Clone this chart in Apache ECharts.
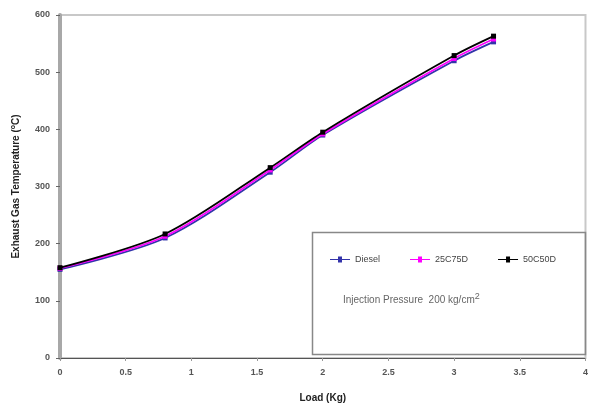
<!DOCTYPE html>
<html>
<head>
<meta charset="utf-8">
<script src="https://cdn.jsdelivr.net/npm/echarts@6/dist/echarts.min.js"></script>
<style>html,body{margin:0;padding:0;background:#fff}#c{width:591px;height:411px}</style>
</head>
<body>
<div id="c"></div>
<script>
var loads = [0, 0.8, 1.6, 2, 3, 3.3];
var diesel = [155, 210, 325, 390, 520, 553];
var c25 = [157, 213, 329, 392, 524, 558];
var c50 = [158, 217, 333, 395, 529, 563];
var seriesNames = ['Diesel', '25C75D', '50C50D'];
var seriesColors = ['#3333aa', '#ff00ff', '#000000'];
var xTicks = [0, 0.5, 1, 1.5, 2, 2.5, 3, 3.5, 4];
var yTicks = [0, 100, 200, 300, 400, 500, 600];

function pairs(v){ return loads.map(function(x,i){ return [x, v[i]]; }); }
var vals = [diesel, c25, c50];

var chart = echarts.init(document.getElementById('c'));
chart.setOption({
  animation: false,
  grid: {left: 60, right: 3, top: 15, bottom: 53, show: true, borderColor: '#c8c8c8', borderWidth: 2},
  xAxis: {
    type: 'value', min: 0, max: 4, interval: 0.5,
    name: 'Load (Kg)', nameLocation: 'middle', nameGap: 35,
    nameTextStyle: {fontFamily: 'Liberation Sans', fontSize: 10, fontWeight: 'bold', color: '#222'},
    axisLine: {lineStyle: {color: '#555', width: 1}},
    axisTick: {show: true, length: 3, inside: false, lineStyle: {color: '#999'}},
    axisLabel: {fontFamily: 'Liberation Sans', fontSize: 9, fontWeight: 'bold', color: '#555', margin: 10,
      formatter: function(v){ return String(v); }},
    splitLine: {show: false}
  },
  yAxis: {
    type: 'value', min: 0, max: 600, interval: 100,
    name: 'Exhaust Gas Temperature ({sup|o}C)', nameLocation: 'middle', nameGap: 38,
    nameTextStyle: {fontFamily: 'Liberation Sans', fontSize: 10, fontWeight: 'bold', color: '#222',
      rich: {sup: {fontSize: 7, fontWeight: 'bold', verticalAlign: 'top', padding: [0,0,5,0], color: '#222'}}},
    axisLine: {show: true, lineStyle: {color: '#a8a8a8', width: 4}},
    axisTick: {show: true, length: 4, lineStyle: {color: '#666'}},
    axisLabel: {fontFamily: 'Liberation Sans', fontSize: 9, fontWeight: 'bold', color: '#555', margin: 10},
    splitLine: {show: false}
  },
  legend: {
    left: 325, top: 250, itemGap: 30, itemWidth: 20, itemHeight: 6,
    textStyle: {fontFamily: 'Liberation Sans', fontSize: 9, color: '#444'},
    data: seriesNames.map(function(n){ return {name: n, icon: 'path://M0,2.5L20,2.5L20,3.5L0,3.5Z M8,0L12,0L12,6L8,6Z'}; })
  },
  graphic: [
    {type: 'rect', left: 310, top: 230, shape: {width: 273, height: 122},
      style: {fill: 'none', stroke: '#888', lineWidth: 1.5}, z: 0},
    {type: 'text', left: 343, top: 292,
      style: {text: 'Injection Pressure  200 kg/cm{sup|2}', fill: '#666', font: '10px Liberation Sans',
        rich: {sup: {fontSize: 9, verticalAlign: 'top', padding: [0,0,8,0], fill: '#666'}}}}
  ],
  series: seriesNames.map(function(n, i){
    return {
      name: n, type: 'line', data: pairs(vals[i]), smooth: 0.3,
      symbol: 'rect', symbolSize: 5, showSymbol: true,
      lineStyle: {color: seriesColors[i], width: 1.8},
      itemStyle: {color: seriesColors[i]},
      z: 2 + i
    };
  })
});
</script>
</body>
</html>
